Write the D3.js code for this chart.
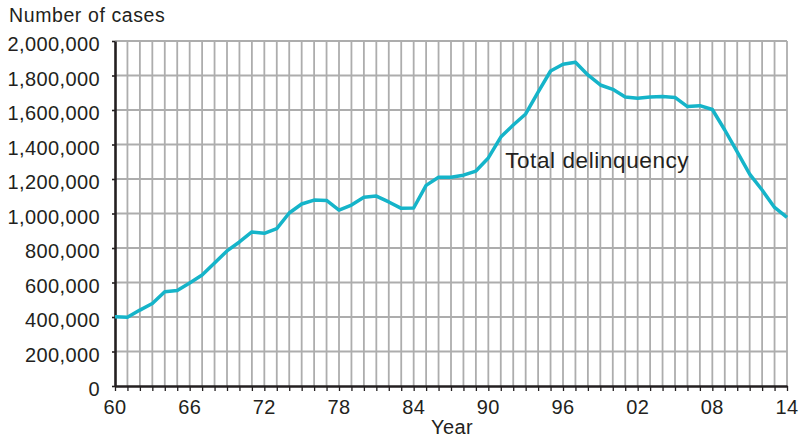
<!DOCTYPE html>
<html>
<head>
<meta charset="utf-8">
<script src="https://cdn.jsdelivr.net/npm/d3@7"></script>
<style>
  body { margin: 0; background: #fff; }
  text { font-family: "Liberation Sans", Arial, sans-serif; fill: #231f20; }
  .grid line { stroke: #adadad; stroke-width: 1.8; }
  .axis path, .axis line { stroke: #231f20; }
</style>
</head>
<body>
<div id="chart"></div>
<script>
// data
var years = d3.range(1960, 2015);
var cases = [
    402000, 398000, 440000, 478000, 546000, 553000, 597000, 643000, 713000, 783000,
    835000, 893000, 885000, 912000, 1003000, 1055000, 1078000, 1076000, 1020000, 1049000,
    1094000, 1101000, 1067000, 1030000, 1032000, 1163000, 1210000, 1210000, 1222000, 1246000,
    1322000, 1443000, 1513000, 1577000, 1704000, 1826000, 1865000, 1877000, 1803000, 1745000,
    1720000, 1675000, 1668000, 1675000, 1678000, 1673000, 1620000, 1625000, 1603000, 1484000,
    1357000, 1228000, 1136000, 1035000, 978000
];
var xTicks = [1960, 1966, 1972, 1978, 1984, 1990, 1996, 2002, 2008, 2014];
var yTicks = d3.range(0, 2000001, 200000);

var margin = { top: 41, right: 23, bottom: 53, left: 115 },
    width = 810 - margin.left - margin.right,
    height = 439 - margin.top - margin.bottom;

var svg = d3.select('#chart').append('svg')
    .attr('width', 810)
    .attr('height', 439);

var g = svg.append('g')
    .attr('transform', 'translate(' + margin.left + ',' + margin.top + ')');

var x = d3.scaleLinear().domain([1960, 2014]).range([0, width]);
var y = d3.scaleLinear().domain([0, 2000000]).range([height, 0]);

// grid
var grid = g.append('g').attr('class', 'grid');
grid.selectAll('.v').data(years.slice(1))
    .enter().append('line')
    .attr('x1', d => x(d)).attr('x2', d => x(d))
    .attr('y1', 0).attr('y2', height);
grid.selectAll('.h').data(yTicks.slice(1))
    .enter().append('line')
    .attr('x1', 0).attr('x2', width)
    .attr('y1', d => y(d)).attr('y2', d => y(d));

// axes
var xAxis = g.append('g')
    .attr('class', 'axis')
    .attr('transform', 'translate(0,' + height + ')')
    .call(d3.axisBottom(x).tickValues(years).tickSize(5).tickSizeOuter(0).tickFormat(''));
xAxis.select('.domain').attr('stroke-width', 2.6);
xAxis.selectAll('.tick line').attr('stroke-width', 1.3);

g.append('g').selectAll('text').data(xTicks)
    .enter().append('text')
    .attr('x', d => x(d))
    .attr('y', height + 28)
    .attr('text-anchor', 'middle')
    .style('font-size', '20px')
    .style('letter-spacing', '0.4px')
    .text(d => d3.format('02d')(d % 100));

var yAxis = g.append('g')
    .attr('class', 'axis')
    .call(d3.axisLeft(y).tickValues(yTicks).tickSize(3).tickSizeOuter(0).tickFormat(''));
yAxis.select('.domain').attr('stroke-width', 2.6);
yAxis.selectAll('.tick line').attr('stroke-width', 1.6);

g.append('g').selectAll('text').data(yTicks)
    .enter().append('text')
    .attr('x', -15)
    .attr('y', d => y(d) + 10)
    .attr('text-anchor', 'end')
    .style('font-size', '20px')
    .style('letter-spacing', '0.4px')
    .text(d => d3.format(',')(d));

// series
var line = d3.line()
    .x((d, i) => x(years[i]))
    .y(d => y(d));

g.append('path')
    .datum(cases)
    .attr('fill', 'none')
    .attr('stroke', '#15b4c9')
    .attr('stroke-width', 3.5)
    .attr('stroke-linejoin', 'round')
    .attr('d', line);

// labels
svg.append('text')
    .attr('x', 9)
    .attr('y', 22)
    .style('font-size', '19.5px')
    .style('letter-spacing', '0.6px')
    .text('Number of cases');

svg.append('text')
    .attr('x', 452)
    .attr('y', 434)
    .attr('text-anchor', 'middle')
    .style('font-size', '20px')
    .style('letter-spacing', '0.4px')
    .text('Year');

g.append('text')
    .attr('x', x(1991.35))
    .attr('y', y(1265000))
    .style('font-size', '22.5px')
    .style('letter-spacing', '0.6px')
    .text('Total delinquency');
</script>
</body>
</html>
